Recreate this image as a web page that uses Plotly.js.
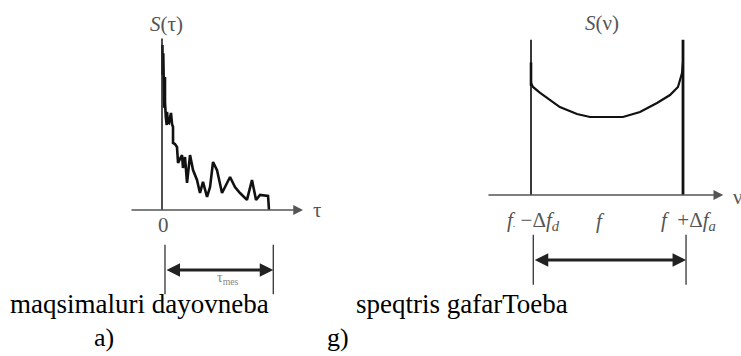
<!DOCTYPE html>
<html><head><meta charset="utf-8">
<script src="https://cdn.plot.ly/plotly-3.0.1.min.js"></script>
<style>html,body{margin:0;padding:0;background:#fff}#c{width:741px;height:356px}</style>
</head><body><div id="c"></div>
<script>
// Left panel: correlation function S(tau), tau normalised to tau_max = 1
const tauVals = [0.004,0.006,0.012,0.02,0.028,0.028,0.036,0.044,0.047,0.056,0.065,0.075,0.084,0.094,0.103,0.103,0.121,0.140,0.150,0.168,0.187,0.196,0.215,0.234,0.262,0.290,0.327,0.355,0.383,0.421,0.449,0.477,0.514,0.561,0.589,0.636,0.682,0.729,0.794,0.841,0.879,0.916,0.991,1.0];
const sTau    = [1.0,0.82,0.95,0.62,0.806,0.655,0.56,0.515,0.594,0.53,0.527,0.57,0.588,0.52,0.503,0.406,0.40,0.382,0.285,0.31,0.333,0.255,0.321,0.164,0.333,0.242,0.182,0.103,0.170,0.079,0.139,0.291,0.242,0.103,0.139,0.200,0.139,0.103,0.061,0.182,0.061,0.091,0.085,0.0];
// Right panel: Doppler spectrum S(nu), nu = (nu - f)/Δf
const nuVals = [-1.0,-0.974,-0.88,-0.79,-0.62,-0.395,-0.224,0.0,0.21,0.434,0.658,0.829,0.934,0.987,1.0];
const sNu    = [1.436,1.385,1.31,1.244,1.128,1.038,1.0,1.0,1.0,1.064,1.18,1.282,1.385,1.564,1.70];
const edgeNu = [-1, 1];
const edgeTop = 1.99;
const tauMax = 1.0;
const tickLabelsNu = ['<i>f</i><span style="font-size:10px">.</span> −Δ<i>f<sub>d</sub></i>', '<i>f</i>', '<i>f</i>  +Δ<i>f<sub>a</sub></i>'];
const tickPosNu = [-0.97, -0.09, 1.07];
const captions = ['maqsimaluri dayovneba', 'speqtris gafarToeba'];
const panelLetters = ['a)', 'g)'];

const serif = 'Liberation Serif';
const ink = '#111';
const gray = '#555';

const traces = [
  {x: tauVals, y: sTau, xaxis:'x', yaxis:'y', mode:'lines', line:{color:ink, width:2.6}, hoverinfo:'skip'},
  {x: [0,0], y: [0, 1.04], xaxis:'x', yaxis:'y', mode:'lines', line:{color:'#222', width:1.6}, hoverinfo:'skip'},
  {x: nuVals, y: sNu, xaxis:'x2', yaxis:'y2', mode:'lines', line:{color:ink, width:2.2}, hoverinfo:'skip'},
  {x: [edgeNu[0], edgeNu[0]], y: [0, edgeTop], xaxis:'x2', yaxis:'y2', mode:'lines', line:{color:'#222', width:1.8}, hoverinfo:'skip'},
  {x: [edgeNu[1], edgeNu[1]], y: [0, edgeTop], xaxis:'x2', yaxis:'y2', mode:'lines', line:{color:'#111', width:2.8}, hoverinfo:'skip'},
  {x: [edgeNu[0], edgeNu[0]], y: [1.4, 1.7], xaxis:'x2', yaxis:'y2', mode:'lines', line:{color:'#111', width:2.6}, hoverinfo:'skip'}
];

const ax = {visible:false, fixedrange:true};
function lbl(xref, yref, x, y, text, size, color) {
  return {xref:xref, yref:yref, x:x, y:y, xanchor:'center', yanchor:'middle', text:text, showarrow:false,
          font:{family:serif, size:size, color:color}};
}
const layout = {
  width:741, height:356, autosize:false,
  margin:{l:0,r:0,t:0,b:0},
  paper_bgcolor:'#fff', plot_bgcolor:'#fff',
  showlegend:false,
  xaxis: Object.assign({domain:[0,0.5], range:[-1.514, 1.9486]}, ax),
  yaxis: Object.assign({domain:[0,1], range:[-0.8848, 1.2727]}, ax),
  xaxis2: Object.assign({domain:[0.5,1], range:[-3.1118, 1.7632], anchor:'y2'}, ax),
  yaxis2: Object.assign({domain:[0,1], range:[-2.064, 2.5], anchor:'x2'}, ax),
  shapes: [
    {type:'line', xref:'x', yref:'y', x0:0.028, x1:0.028, y0:-0.21, y1:-0.51, line:{color:'#333', width:1.3}},
    {type:'line', xref:'x', yref:'y', x0:tauMax*1.04, x1:tauMax*1.04, y0:-0.21, y1:-0.51, line:{color:'#333', width:1.3}},
    {type:'line', xref:'x2', yref:'y2', x0:-0.97, x1:-0.97, y0:-0.51, y1:-1.15, line:{color:'#333', width:1.3}},
    {type:'line', xref:'x2', yref:'y2', x0:1.04, x1:1.04, y0:-0.51, y1:-1.15, line:{color:'#333', width:1.3}}
  ],
  annotations: [
    {xref:'x', yref:'y', axref:'x', ayref:'y', x:1.318, y:0, ax:-0.299, ay:0, text:'', showarrow:true, arrowhead:2, arrowsize:1.4, arrowwidth:1.4, arrowcolor:'#555'},
    {xref:'x2', yref:'y2', axref:'x2', ayref:'y2', x:1.53, y:0, ax:-1.58, ay:0, text:'', showarrow:true, arrowhead:2, arrowsize:1.4, arrowwidth:1.4, arrowcolor:'#555'},
    {xref:'x', yref:'y', axref:'x', ayref:'y', x:tauMax*1.04, y:-0.364, ax:0.028, ay:-0.364, text:'', showarrow:true, arrowhead:2, startarrowhead:2, arrowside:'end+start', arrowsize:0.9, arrowwidth:3, arrowcolor:'#222'},
    {xref:'x2', yref:'y2', axref:'x2', ayref:'y2', x:1.04, y:-0.833, ax:-0.97, ay:-0.833, text:'', showarrow:true, arrowhead:2, startarrowhead:2, arrowside:'end+start', arrowsize:0.9, arrowwidth:3, arrowcolor:'#222'},
    lbl('x','y', 0.04, 1.13, '<i>S</i>(τ)', 21, gray),
    lbl('x','y', 1.45, 0, 'τ', 21, gray),
    lbl('x','y', 0.01, -0.09, '0', 21, gray),
    lbl('x','y', 0.62, -0.415, 'τ<sub>mes</sub>', 14, '#888'),
    lbl('x2','y2', -0.07, 2.2, '<i>S</i>(ν)', 21, gray),
    lbl('x2','y2', 1.72, -0.03, 'ν', 21, gray),
    lbl('x2','y2', tickPosNu[0], -0.33, tickLabelsNu[0], 21, gray),
    lbl('x2','y2', tickPosNu[1], -0.33, tickLabelsNu[1], 21, gray),
    lbl('x2','y2', tickPosNu[2], -0.33, tickLabelsNu[2], 21, gray),
    lbl('paper','paper', 139/741, 1-304/356, captions[0], 27, '#000'),
    lbl('paper','paper', 462/741, 1-304/356, captions[1], 27, '#000'),
    lbl('paper','paper', 104/741, 1-337/356, panelLetters[0], 26, '#000'),
    lbl('paper','paper', 338/741, 1-337/356, panelLetters[1], 26, '#000')
  ]
};
Plotly.newPlot('c', traces, layout, {staticPlot:true, displayModeBar:false});
</script></body></html>
